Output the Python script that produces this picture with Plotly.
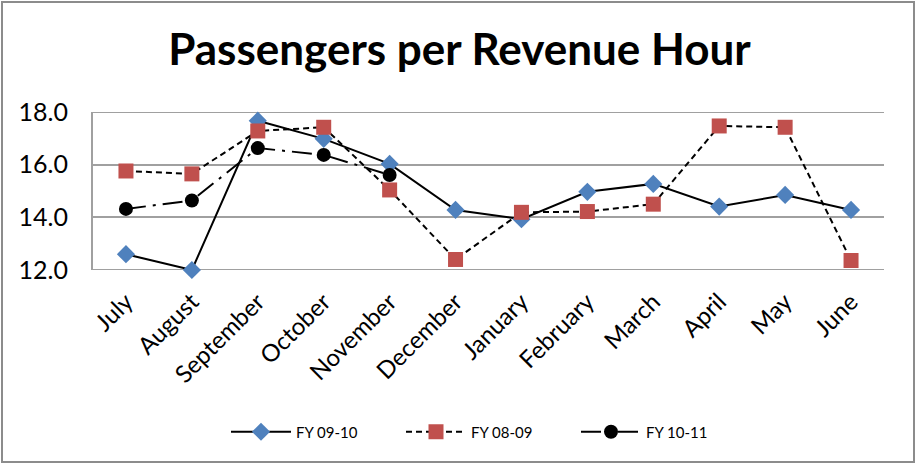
import plotly.graph_objects as go

months = ["July", "August", "September", "October", "November", "December",
          "January", "February", "March", "April", "May", "June"]
fy0910 = [12.6, 12.0, 17.67, 16.98, 16.03, 14.28, 13.93, 14.97, 15.27, 14.41, 14.85, 14.28]
fy0809 = [15.76, 15.65, 17.28, 17.42, 15.04, 12.4, 14.19, 14.22, 14.5, 17.47, 17.42, 12.36]
fy1011 = [14.32, 14.64, 16.63, 16.37, 15.61]
y_ticks = [12.0, 14.0, 16.0, 18.0]

FONT = "Lato, 'Open Sans', sans-serif"
GRID = "#A0A0A0"

fig = go.Figure()
fig.add_trace(go.Scatter(
    x=months, y=fy0910, name="FY 09-10", mode="lines+markers",
    line=dict(color="black", width=2),
    marker=dict(symbol="diamond", size=14, color="#4F81BD"),
    cliponaxis=False))
fig.add_trace(go.Scatter(
    x=months, y=fy0809, name="FY 08-09", mode="lines+markers",
    line=dict(color="black", width=2, dash="6px,4px"),
    marker=dict(symbol="square", size=15, color="#C0504D"),
    cliponaxis=False))
fig.add_trace(go.Scatter(
    x=months[:len(fy1011)], y=fy1011, name="FY 10-11", mode="lines+markers",
    line=dict(color="black", width=2, dash="20px,7px,3px,7px"),
    marker=dict(symbol="circle", size=14, color="black"),
    cliponaxis=False))

L, R, T, B = 93, 35, 112, 196
W, H = 919, 466
pw, ph = W - L - R, H - T - B

fig.update_layout(
    width=W, height=H,
    margin=dict(l=L, r=R, t=T, b=B, autoexpand=False),
    paper_bgcolor="white", plot_bgcolor="white",
    font=dict(family=FONT, color="black"),
    title=dict(text="<b>Passengers per Revenue Hour</b>", x=0.5, xanchor="center",
               y=1 - 50 / H, yanchor="middle",
               font=dict(family=FONT, size=44, color="black")),
    xaxis=dict(range=[-0.5, 11.5], tickangle=-45, showgrid=False,
               tickfont=dict(size=24), ticks="", showline=False, zeroline=False,
               ticklabelstandoff=12),
    yaxis=dict(range=[12, 18], tickvals=y_ticks, ticktext=[f"{v:.1f}" for v in y_ticks],
               showgrid=True, gridcolor=GRID, gridwidth=2, zeroline=False,
               tickfont=dict(size=25), ticks="", showline=True, linecolor=GRID,
               linewidth=2, ticklabelstandoff=18),
    legend=dict(orientation="h", x=(226 - L) / pw, xanchor="left", y=-(432 - 270) / ph,
                yanchor="middle", font=dict(size=15), bgcolor="rgba(0,0,0,0)",
                itemwidth=60, entrywidth=100),
    showlegend=True,
)

# edge gridlines (plotly omits gridlines at the range limits)
for v in (y_ticks[0], y_ticks[-1]):
    fig.add_shape(type="line", xref="paper", yref="y", x0=0, x1=1, y0=v, y1=v,
                  line=dict(color=GRID, width=2), layer="below")

fig.add_shape(type="rect", xref="paper", yref="paper",
              x0=(2 - L) / pw, x1=(914 - L) / pw,
              y0=(270 - 462) / ph, y1=(270 - 2) / ph,
              line=dict(color="#8C8C8C", width=2), layer="below")

fig.write_html("out.html", config={"displayModeBar": False},
               post_script="document.body.style.margin='0';")
